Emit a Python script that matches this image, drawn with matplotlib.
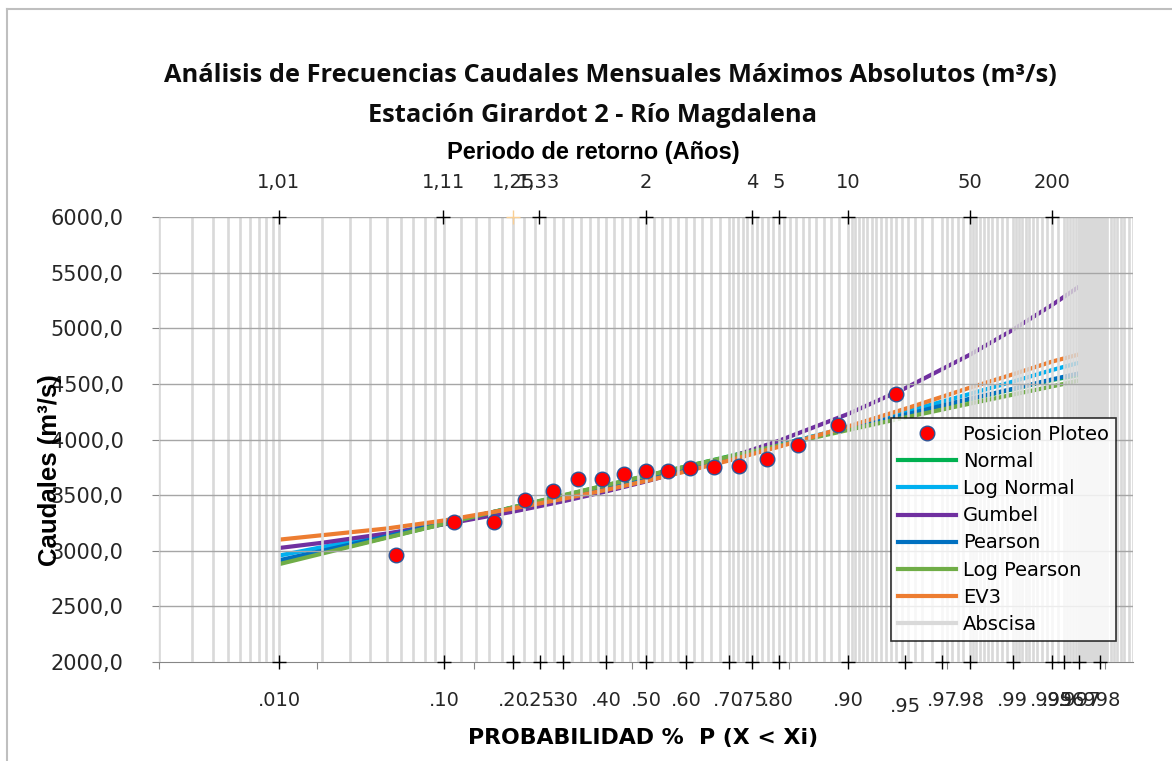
import numpy as np
import matplotlib
matplotlib.use("Agg")
import matplotlib.pyplot as plt
from matplotlib.lines import Line2D
from matplotlib.ticker import FuncFormatter, FixedLocator, NullLocator
from statistics import NormalDist

plt.rcParams['font.family'] = ['DejaVu Sans']

# plotting positions (Weibull, n = 17) and observed maxima
p_obs = [0.056, 0.111, 0.167, 0.222, 0.278, 0.333, 0.389, 0.444, 0.500,
         0.556, 0.611, 0.667, 0.722, 0.778, 0.833, 0.889, 0.944]
q_obs = [2960, 3254, 3254, 3455, 3538, 3643, 3643, 3686, 3715,
         3715, 3745, 3750, 3760, 3823, 3949, 4129, 4408]

# fitted curves
p_fit = [0.01, 0.02, 0.05, 0.10, 0.20, 0.30, 0.40, 0.50, 0.60,
         0.70, 0.80, 0.90, 0.95, 0.98, 0.99, 0.995, 0.997]
q_normal = [2893, 2984, 3121, 3243, 3390, 3496, 3587, 3672, 3757,
            3848, 3954, 4101, 4223, 4360, 4451, 4535, 4580]
q_lognormal = [2957, 3033, 3148, 3254, 3387, 3487, 3574, 3657, 3742,
               3836, 3949, 4110, 4249, 4409, 4520, 4624, 4690]
q_gumbel = [3025, 3072, 3155, 3237, 3352, 3445, 3533, 3623, 3721,
            3837, 3988, 4229, 4461, 4761, 4985, 5209, 5374]
q_pearson = [2915, 3000, 3130, 3247, 3388, 3490, 3579, 3662, 3746,
             3838, 3946, 4097, 4223, 4366, 4455, 4540, 4595]
q_logpearson = [2880, 2975, 3117, 3242, 3392, 3499, 3590, 3674, 3757,
                3845, 3946, 4085, 4198, 4322, 4403, 4477, 4530]
q_ev3 = [3100, 3140, 3200, 3272, 3380, 3467, 3547, 3628, 3713,
         3810, 3934, 4117, 4276, 4465, 4585, 4700, 4765]

# probability paper grid ("Abscisa"): (start, stop, step)
abscisa_blocks = [(0.001, 0.0095, 0.001), (0.01, 0.095, 0.01),
                  (0.10, 0.69, 0.02), (0.70, 0.905, 0.01),
                  (0.904, 0.961, 0.004), (0.965, 0.971, 0.005),
                  (0.972, 0.9805, 0.002), (0.981, 0.9905, 0.001),
                  (0.9905, 0.996, 0.0005), (0.996, 0.997, 0.0002),
                  (0.997, 0.9983, 0.00002), (0.9984, 0.999, 0.0001)]

# bottom axis labels (probability) and top labels (return period)
p_bottom = [0.01, 0.10, 0.20, 0.25, 0.30, 0.40, 0.50, 0.60, 0.70, 0.75,
            0.80, 0.90, 0.95, 0.97, 0.98, 0.99, 0.995, 0.996, 0.997, 0.998]
lab_bottom = ['.010', '.10', '.20', '.25', '.30', '.40', '.50', '.60', '.70',
              '.75', '.80', '.90', '.95', '.97', '.98', '.99', '.995', '.996',
              '.997', '.998']
p_top = [0.0099, 0.099, 0.20, 0.248, 0.50, 0.75, 0.80, 0.90, 0.98, 0.995]
lab_top = ['1,01', '1,11', '1,25', '1,33', '2', '4', '5', '10', '50', '200']

y_ticks = [2000, 2500, 3000, 3500, 4000, 4500, 5000, 5500, 6000]

nd = NormalDist()


def to_z(p):
    p = np.clip(np.asarray(p, dtype=float), 1e-9, 1 - 1e-9)
    return np.vectorize(nd.inv_cdf, otypes=[float])(p)


def to_p(z):
    return np.vectorize(nd.cdf, otypes=[float])(np.asarray(z, dtype=float))


W, H = 1172, 761


def fx(px):
    return px / W


def fy(py):
    return 1 - py / H


fig = plt.figure(figsize=(W / 100, H / 100), dpi=100)
ax = fig.add_axes([fx(159), fy(662), fx(1133) - fx(159), fy(217) - fy(662)])
ax.set_xscale('function', functions=(to_z, to_p))

p_min, p_max = to_p(-3.09), to_p(3.09)
ax.set_xlim(p_min, p_max)
ax.set_ylim(y_ticks[0], y_ticks[-1])

# fitted curves
curves = [('Normal', q_normal, '#00b050'),
          ('Log Normal', q_lognormal, '#00b0f0'),
          ('Gumbel', q_gumbel, '#7030a0'),
          ('Pearson', q_pearson, '#0070c0'),
          ('Log Pearson', q_logpearson, '#70ad47'),
          ('EV3', q_ev3, '#ed7d31')]
for name, q, c in curves:
    ax.plot(p_fit, q, color=c, lw=3, zorder=2, solid_capstyle='butt')

# abscisa grid lines
abscisa = np.concatenate([np.arange(a, b, s) for a, b, s in abscisa_blocks])
ax.vlines(abscisa, y_ticks[0], y_ticks[-1], color='#d9d9d9', lw=1.9, zorder=3)
ax.hlines(y_ticks[1:], p_min, p_max, color='#a6a6a6', lw=1, zorder=3.5)

# observed points
ax.plot(p_obs, q_obs, 'o', ms=10.5, mfc='#ff0000', mec='#2f5597', mew=1,
        zorder=6)

# cross markers and labels
ax.plot(p_bottom, [y_ticks[0]] * len(p_bottom), '+', color='k', ms=10, mew=1,
        zorder=7, clip_on=False)
top_cols = ['k'] * len(p_top)
top_cols[2] = '#f9cf94'
for p, c in zip(p_top, top_cols):
    ax.plot([p], [y_ticks[-1]], '+', color=c, ms=10, mew=1, zorder=7,
            clip_on=False)
for p, s in zip(p_bottom, lab_bottom):
    off = -44 if s == '.95' else -38
    ax.annotate(s, (p, y_ticks[0]), xytext=(0, off), textcoords='offset pixels',
                ha='center', va='center', fontsize=14, color='#262626')
for p, s in zip(p_top, lab_top):
    ax.annotate(s, (p, y_ticks[-1]), xytext=(0, 35), textcoords='offset pixels',
                ha='center', va='center', fontsize=14, color='#262626')

# axes styling
for side in ['top', 'right']:
    ax.spines[side].set_visible(False)
for side in ['left', 'bottom']:
    ax.spines[side].set_color('#868686')
ax.yaxis.set_major_locator(FixedLocator(y_ticks))
ax.yaxis.set_major_formatter(FuncFormatter(lambda v, _: f'{v:.1f}'.replace('.', ',')))
ax.tick_params(axis='y', direction='out', length=5, color='#868686',
               labelsize=15, labelcolor='#262626', pad=20.5)
ax.xaxis.set_major_locator(FixedLocator(to_p(np.arange(-3.09, 3.1, 1.0))))
ax.xaxis.set_minor_locator(NullLocator())
ax.tick_params(axis='x', direction='out', length=5, color='#868686',
               labelbottom=False)

# legend
handles = [Line2D([], [], ls='none', marker='o', ms=10.5, mfc='#ff0000',
                  mec='#2f5597', label='Posicion Ploteo')]
for name, q, c in curves:
    handles.append(Line2D([], [], color=c, lw=3, label=name))
handles.append(Line2D([], [], color='#d9d9d9', lw=3, label='Abscisa'))
leg = ax.legend(handles=handles, loc='upper left',
                bbox_to_anchor=(fx(891), fy(418)), bbox_transform=fig.transFigure,
                borderaxespad=0, fontsize=14, frameon=True, fancybox=False,
                handlelength=3.0, handletextpad=0.35, labelspacing=0.42,
                borderpad=0.35)
leg.get_frame().set_edgecolor('black')
leg.get_frame().set_linewidth(1.2)
leg.set_zorder(10)

# titles
fig.text(fx(610), fy(75), 'Análisis de Frecuencias Caudales Mensuales Máximos Absolutos (m³/s)',
         ha='center', va='center', fontsize=18.3, fontweight='bold',
         family=['Open Sans', 'DejaVu Sans'], color='#0d0d0d')
fig.text(fx(593), fy(115), 'Estación Girardot 2 - Río Magdalena',
         ha='center', va='center', fontsize=18.3, fontweight='bold',
         family=['Open Sans', 'DejaVu Sans'], color='#0d0d0d')
fig.text(fx(593), fy(153), 'Periodo de retorno (Años)', ha='center', va='center',
         fontsize=17, fontweight='bold', family=['Liberation Sans', 'DejaVu Sans'])
fig.text(fx(50), fy(470), 'Caudales (m³/s)', ha='center', va='center',
         rotation=90, fontsize=18.5, fontweight='bold',
         family=['Liberation Sans', 'DejaVu Sans'])
fig.text(fx(643), fy(738), 'PROBABILIDAD %  P (X < Xi)', ha='center', va='center',
         fontsize=15.8, fontweight='bold', family=['DejaVu Sans'])

# chart border (left and top edges visible in the crop)
fig.add_artist(Line2D([fx(7), fx(7)], [fy(9), 0], color='#bfbfbf', lw=1.5))
fig.add_artist(Line2D([fx(7), 1], [fy(9), fy(9)], color='#bfbfbf', lw=1.5))

fig.savefig('out.png', dpi=100)
